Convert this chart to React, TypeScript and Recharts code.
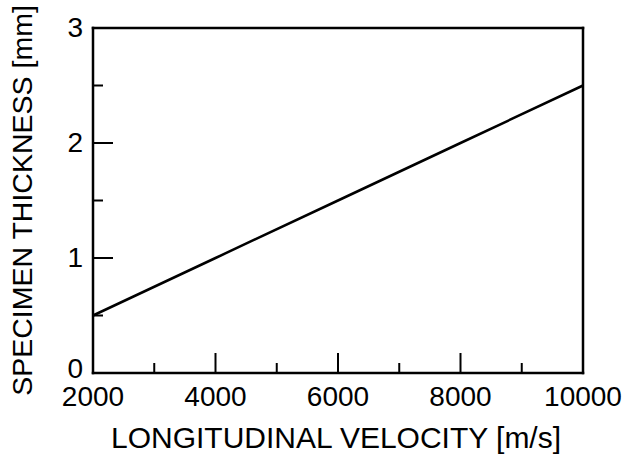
import React from 'react';
import { LineChart, Line, XAxis, YAxis, Label } from 'recharts';

const velocity = [2000, 4000, 6000, 8000, 10000];
const thickness = [0.5, 1.0, 1.5, 2.0, 2.5];
const xTicks = [2000, 3000, 4000, 5000, 6000, 7000, 8000, 9000, 10000];
const yTicks = [0, 0.5, 1, 1.5, 2, 2.5, 3];

const data = velocity.map((v, i) => ({ v, t: thickness[i] }));

const FONT = '"Liberation Sans", Arial, Helvetica, sans-serif';
const AXIS = { stroke: '#000', strokeWidth: 2.5, strokeLinecap: 'square' as const };

const isMajorX = (v: number) => v % 2000 === 0;
const isMajorY = (v: number) => Number.isInteger(v);

const BottomTick = (props: any) => {
  const { x, y, payload } = props;
  const major = isMajorX(payload.value);
  return (
    <g>
      <line x1={x} y1={y} x2={x} y2={y - (major ? 20 : 10)} stroke="#000" strokeWidth={2} />
      {major && (
        <text x={x} y={y + 33} textAnchor="middle" fontSize={28} fontFamily={FONT} fill="#000">
          {payload.value}
        </text>
      )}
    </g>
  );
};

const TopTick = (props: any) => {
  const { x, y, payload } = props;
  const major = isMajorX(payload.value);
  return <line x1={x} y1={y} x2={x} y2={y + (major ? 20 : 10)} stroke="#000" strokeWidth={2} />;
};

const LeftTick = (props: any) => {
  const { x, y, payload } = props;
  const major = isMajorY(payload.value);
  return (
    <g>
      <line x1={x} y1={y} x2={x + (major ? 20 : 10)} y2={y} stroke="#000" strokeWidth={2} />
      {major && (
        <text
          x={x - 10}
          y={y + (payload.value === 0 ? 5 : 9)}
          textAnchor="end"
          fontSize={28}
          fontFamily={FONT}
          fill="#000"
        >
          {payload.value}
        </text>
      )}
    </g>
  );
};

const RightTick = (props: any) => {
  const { x, y, payload } = props;
  const major = isMajorY(payload.value);
  return <line x1={x} y1={y} x2={x - (major ? 20 : 10)} y2={y} stroke="#000" strokeWidth={2} />;
};

const XTitle = (props: any) => {
  const vb = props.viewBox;
  return (
    <text x={vb.x + vb.width / 2 - 2} y={vb.y + 75} textAnchor="middle" fontSize={30} fontFamily={FONT} fill="#000">
      LONGITUDINAL VELOCITY [m/s]
    </text>
  );
};

const YTitle = (props: any) => {
  const vb = props.viewBox;
  const cx = vb.x + 32;
  const cy = vb.y + vb.height / 2;
  return (
    <text
      x={cx}
      y={cy}
      transform={`rotate(-90, ${cx}, ${cy})`}
      textAnchor="middle"
      fontSize={28.5}
      fontFamily={FONT}
      fill="#000"
    >
      SPECIMEN THICKNESS [mm]
    </text>
  );
};

const App = () => {
  return (
    <div style={{ position: 'absolute', left: 0, top: 0, background: '#fff' }}>
      <LineChart width={626} height={459} data={data} margin={{ top: 0, right: 0, bottom: 0, left: 0 }}>
        <XAxis
          dataKey="v"
          type="number"
          domain={[2000, 10000]}
          ticks={xTicks}
          interval={0}
          height={86}
          tickSize={0}
          tickMargin={0}
          axisLine={AXIS}
          tickLine={false}
          tick={<BottomTick />}
        >
          <Label content={<XTitle />} />
        </XAxis>
        <XAxis
          xAxisId="top"
          orientation="top"
          type="number"
          domain={[2000, 10000]}
          ticks={xTicks}
          interval={0}
          height={28}
          tickSize={0}
          tickMargin={0}
          axisLine={AXIS}
          tickLine={false}
          tick={<TopTick />}
        />
        <YAxis
          type="number"
          domain={[0, 3]}
          ticks={yTicks}
          interval={0}
          width={93}
          tickSize={0}
          tickMargin={0}
          axisLine={AXIS}
          tickLine={false}
          tick={<LeftTick />}
        >
          <Label content={<YTitle />} />
        </YAxis>
        <YAxis
          yAxisId="right"
          orientation="right"
          type="number"
          domain={[0, 3]}
          ticks={yTicks}
          interval={0}
          width={43}
          tickSize={0}
          tickMargin={0}
          axisLine={AXIS}
          tickLine={false}
          tick={<RightTick />}
        />
        <Line
          type="linear"
          dataKey="t"
          stroke="#000"
          strokeWidth={2.5}
          dot={false}
          isAnimationActive={false}
        />
      </LineChart>
    </div>
  );
};

export default App;
